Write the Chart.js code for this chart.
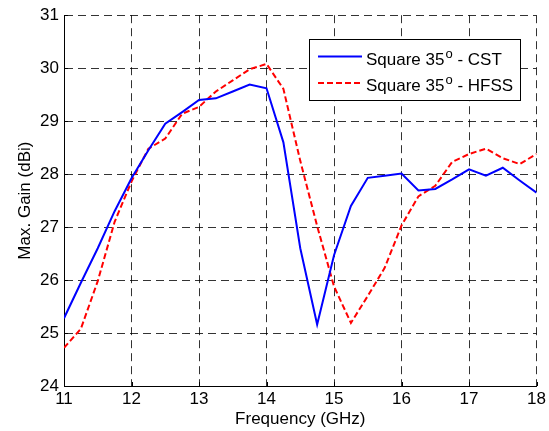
<!DOCTYPE html>
<html>
<head>
<meta charset="utf-8">
<script src="https://cdn.jsdelivr.net/npm/chart.js@4"></script>
<style>
  html, body { margin: 0; padding: 0; background: #fff; }
  #gainChart { display: block; }
</style>
</head>
<body>
<canvas id="gainChart" width="549" height="431"></canvas>
<script>
// frequency points (GHz) and simulated max gain (dBi)
var freqGHz = [11, 11.25, 11.5, 11.75, 12, 12.25, 12.5, 12.75, 13, 13.25, 13.5, 13.75, 14, 14.25,
               14.5, 14.75, 15, 15.25, 15.5, 15.75, 16, 16.25, 16.5, 16.75, 17, 17.25, 17.5, 17.75, 18];
var cstGain = [25.28, 25.95, 26.6, 27.3, 27.92, 28.45, 28.95, 29.17, 29.4, 29.43, 29.56, 29.69, 29.62, 28.6,
               26.6, 25.16, 26.47, 27.4, 27.93, 27.97, 28.01, 27.69, 27.72, 27.9, 28.09, 27.97, 28.12, 27.88, 27.65];
var hfssGain = [24.72, 25.08, 25.98, 27.1, 27.86, 28.48, 28.67, 29.14, 29.27, 29.56, 29.77, 29.98, 30.08, 29.61,
                28.25, 27.02, 25.88, 25.19, 25.7, 26.23, 27.03, 27.58, 27.78, 28.23, 28.38, 28.48, 28.3, 28.19, 28.38];
var xTicks = [11, 12, 13, 14, 15, 16, 17, 18];
var yTicks = [24, 25, 26, 27, 28, 29, 30, 31];
var seriesNames = ['Square 35', 'Square 35'];
var seriesSuffix = [' - CST', ' - HFSS'];

function toPoints(ys) {
	var pts = [];
	for (var i = 0; i < freqGHz.length; i++) {
		pts.push({x: freqGHz[i], y: ys[i]});
	}
	return pts;
}

var FONT = 'Liberation Sans, Arial, sans-serif';

// small inward tick marks on the left and bottom axes
var innerTicks = {
	id: 'innerTicks',
	afterDatasetsDraw: function(chart) {
		var ctx = chart.ctx, area = chart.chartArea;
		var xs = chart.scales.x, ys = chart.scales.y;
		ctx.save();
		ctx.strokeStyle = '#000';
		ctx.lineWidth = 1;
		ctx.beginPath();
		xs.ticks.forEach(function(t) {
			var px = Math.round(xs.getPixelForValue(t.value)) + 0.5;
			ctx.moveTo(px, area.bottom);
			ctx.lineTo(px, area.bottom - 4);
		});
		ys.ticks.forEach(function(t) {
			var py = Math.round(ys.getPixelForValue(t.value)) + 0.5;
			ctx.moveTo(area.left, py);
			ctx.lineTo(area.left + 4, py);
		});
		ctx.stroke();
		ctx.restore();
	}
};

// legend box inside the plot, top right (with the raised "o")
var boxLegend = {
	id: 'boxLegend',
	afterDraw: function(chart) {
		var ctx = chart.ctx;
		var x0 = 309.5, y0 = 39.5, w = 211, h = 61;
		ctx.save();
		ctx.fillStyle = '#fff';
		ctx.fillRect(x0, y0, w, h);
		ctx.strokeStyle = '#000';
		ctx.lineWidth = 1;
		ctx.strokeRect(x0, y0, w, h);
		var rows = [56.5, 83];
		chart.data.datasets.forEach(function(ds, i) {
			var y = rows[i];
			ctx.strokeStyle = ds.borderColor;
			ctx.lineWidth = 2;
			ctx.setLineDash(ds.borderDash || []);
			ctx.beginPath();
			ctx.moveTo(318, y);
			ctx.lineTo(362, y);
			ctx.stroke();
			ctx.setLineDash([]);
			ctx.fillStyle = '#000';
			ctx.textBaseline = 'alphabetic';
			ctx.textAlign = 'left';
			ctx.font = '17px ' + FONT;
			var tx = 366;
			ctx.fillText(seriesNames[i], tx, y + 8);
			tx += ctx.measureText(seriesNames[i]).width;
			ctx.font = '13px ' + FONT;
			ctx.fillText('o', tx + 1, y + 1);
			tx += ctx.measureText('o').width + 1;
			ctx.font = '17px ' + FONT;
			ctx.fillText(seriesSuffix[i], tx, y + 8);
		});
		ctx.restore();
	}
};

var ctx = document.getElementById('gainChart').getContext('2d');
var gainChart = new Chart(ctx, {
	type: 'line',
	data: {
		datasets: [{
			label: 'Square 35o - CST',
			data: toPoints(cstGain),
			borderColor: '#0000ff',
			borderWidth: 2,
			pointRadius: 0,
			tension: 0,
			fill: false
		}, {
			label: 'Square 35o - HFSS',
			data: toPoints(hfssGain),
			borderColor: '#ff0000',
			borderWidth: 2,
			borderDash: [6, 3],
			pointRadius: 0,
			tension: 0,
			fill: false
		}]
	},
	options: {
		responsive: false,
		animation: false,
		layout: { padding: {left: 0, right: 12, top: 12, bottom: 0} },
		plugins: {
			legend: { display: false },
			tooltip: { enabled: false }
		},
		scales: {
			x: {
				type: 'linear',
				min: 11,
				max: 18,
				afterFit: function(scale) { scale.height = 45; },
				afterBuildTicks: function(scale) {
					scale.ticks = xTicks.map(function(v) { return {value: v}; });
				},
				ticks: {
					color: '#000',
					padding: 3,
					font: {family: FONT, size: 17}
				},
				grid: {
					color: 'rgba(0,0,0,0.8)',
					lineWidth: 1,
					drawTicks: false
				},
				border: { display: true, color: '#000', width: 1, dash: [8, 5] },
				title: {
					display: true,
					text: 'Frequency (GHz)',
					color: '#000',
					font: {family: FONT, size: 17},
					padding: {top: 0, bottom: 1}
				}
			},
			y: {
				min: 24,
				max: 31,
				afterFit: function(scale) { scale.width = 64; },
				afterBuildTicks: function(scale) {
					scale.ticks = yTicks.map(function(v) { return {value: v}; });
				},
				ticks: {
					color: '#000',
					padding: 5,
					font: {family: FONT, size: 17}
				},
				grid: {
					color: 'rgba(0,0,0,0.8)',
					lineWidth: 1,
					drawTicks: false
				},
				border: { display: true, color: '#000', width: 1, dash: [8, 5] },
				title: {
					display: true,
					text: 'Max. Gain (dBi)',
					color: '#000',
					font: {family: FONT, size: 17},
					padding: {top: 15, bottom: 0}
				}
			}
		}
	},
	plugins: [innerTicks, boxLegend]
});
</script>
</body>
</html>
